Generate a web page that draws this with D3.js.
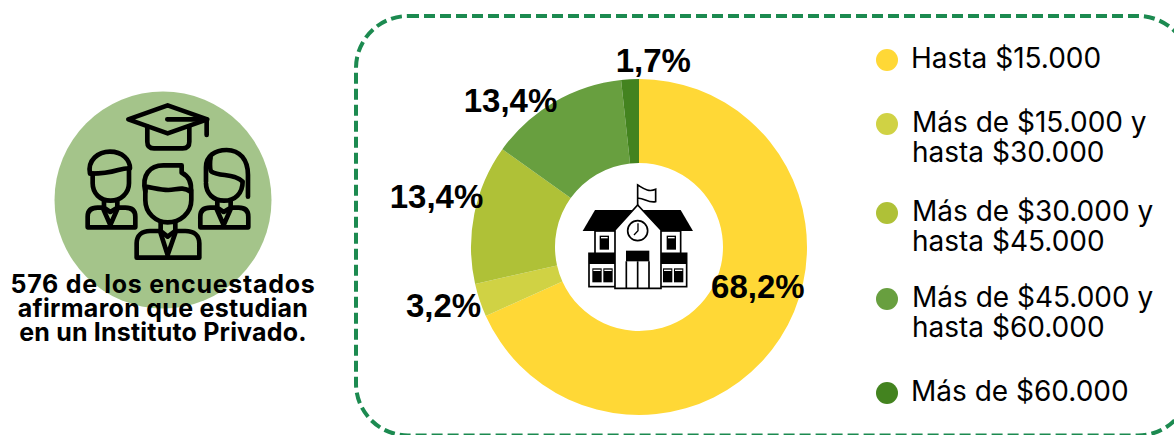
<!DOCTYPE html>
<html>
<head>
<meta charset="utf-8">
<script src="https://cdn.jsdelivr.net/npm/d3@7"></script>
<style>
  html, body { margin: 0; padding: 0; background: #fff; }
  svg { display: block; font-family: Inter, sans-serif; }
</style>
</head>
<body>
<div id="chart"></div>
<script>
const categories = [
  ["Hasta $15.000"],
  ["Más de $15.000 y", "hasta $30.000"],
  ["Más de $30.000 y", "hasta $45.000"],
  ["Más de $45.000 y", "hasta $60.000"],
  ["Más de $60.000"]
];
const values = [68.2, 3.2, 13.4, 13.4, 1.7];
const valueLabels = ["68,2%", "3,2%", "13,4%", "13,4%", "1,7%"];
const colors = ["#ffd836", "#d0d244", "#afc137", "#689f3f", "#43831f"];
const introLines = ["576 de los encuestados", "afirmaron que estudian", "en un Instituto Privado."];

const width = 1174, height = 435;
const svg = d3.select("#chart").append("svg")
  .attr("width", width)
  .attr("height", height);

// dashed frame, runs off the right edge and bottom like the original
svg.append("rect")
  .attr("x", 356).attr("y", 16)
  .attr("width", 834).attr("height", 419.5)
  .attr("rx", 52).attr("ry", 52)
  .attr("fill", "none")
  .attr("stroke", "#1c8a50")
  .attr("stroke-width", 4)
  .attr("stroke-dasharray", "11 5");

// left badge
svg.append("circle")
  .attr("cx", 163).attr("cy", 200).attr("r", 108.5)
  .attr("fill", "#a4c48a");

// students icon, drawn on a 3x grid
const students = svg.append("g")
  .attr("transform", "translate(0,80) scale(0.3333)")
  .attr("fill", "none")
  .attr("stroke", "#000")
  .attr("stroke-width", 14)
  .attr("stroke-linejoin", "round")
  .attr("stroke-linecap", "round");

[
  // cap
  "M385,118 L503,76 L622,118 L503,160 Z",
  "M502,118 H620 V165",
  "M442,140 V185 Q442,205 462,205 H548 Q568,205 568,185 V140",
  // middle student
  "M436,335 C424,285 450,256 490,256 H545 V278 C568,290 576,310 572,335 C545,318 530,330 505,330 C480,330 455,322 436,320 Z",
  "M436,325 V360 C436,400 468,427 503,427 C540,427 574,400 574,360 V330",
  "M410,533 V490 C410,466 426,453 450,453 H480 L503,525 L528,453 H556 C582,453 598,466 598,490 V533 Z",
  "M482,428 V453 M526,428 V453 M482,453 L503,470 L526,453",
  // left student
  "M270,281 C262,240 295,215 330,215 C368,215 390,240 390,265 C360,262 345,282 270,281 Z",
  "M278,281 V310 C278,340 300,362 332,362 C362,362 387,340 387,310 V265",
  "M263,442 V410 C263,392 274,383 293,383 H308 L331,435 L354,383 H376 C396,383 406,392 406,410 V442 Z",
  "M312,362 V383 M352,362 V383 M312,383 L331,396 L352,383",
  // right student
  "M618,305 V262 C618,228 645,210 680,210 C720,210 744,240 744,285 V350",
  "M618,310 C618,340 640,362 672,362 C705,362 728,340 728,305 C705,280 660,290 635,275 C628,270 630,240 632,232",
  "M601,442 V410 C601,392 612,383 631,383 H648 L671,435 L694,383 H716 C736,383 745,392 745,410 V442 Z",
  "M652,362 V383 M692,362 V383 M652,383 L671,396 L692,383"
].forEach(d => students.append("path").attr("d", d));

const introSpacing = [0.7, 0.3, 0.2];
svg.append("g")
  .attr("text-anchor", "middle")
  .attr("font-weight", 700)
  .attr("font-size", 25)
  .selectAll("text")
  .data(introLines)
  .join("text")
  .attr("x", 163)
  .attr("y", (d, i) => 293 + i * 24)
  .attr("letter-spacing", (d, i) => introSpacing[i])
  .text(d => d);

// donut
const cx = 639, cy = 247;
const pie = d3.pie().sort(null).value(d => d);
const arc = d3.arc().innerRadius(84).outerRadius(168);
const arcs = pie(values);

const donut = svg.append("g").attr("transform", `translate(${cx},${cy})`);
donut.selectAll("path")
  .data(arcs)
  .join("path")
  .attr("d", arc)
  .attr("fill", (d, i) => colors[i]);

// labels sit by hand around the ring, so nudge them from each slice's centroid
const labelNudge = [[13, -29], [-76, 19], [-79, -26], [-65, -38], [21, -61]];
donut.selectAll("text")
  .data(arcs)
  .join("text")
  .attr("text-anchor", "middle")
  .attr("font-family", "'Liberation Sans', sans-serif")
  .attr("font-weight", 700)
  .attr("font-size", 33)
  .attr("transform", (d, i) => {
    const c = arc.centroid(d);
    return `translate(${c[0] + labelNudge[i][0]},${c[1] + labelNudge[i][1]})`;
  })
  .attr("dy", "0.35em")
  .text((d, i) => valueLabels[i]);

// school icon, 3x grid as well
const school = svg.append("g")
  .attr("transform", "translate(560,170) scale(0.3333)")
  .attr("stroke", "#000");

// flag
school.append("path")
  .attr("d", "M233,105 V45 C250,55 265,68 287,58 V95 C265,100 250,82 233,85")
  .attr("fill", "#fff").attr("stroke-width", 5);

function wing(g) {
  g.append("path").attr("d", "M68,183 L105,120 H240 V183 Z").attr("fill", "#000").attr("stroke", "none");
  g.append("rect").attr("x", 105).attr("y", 183).attr("width", 70).attr("height", 70).attr("fill", "#fff").attr("stroke-width", 5);
  g.append("rect").attr("x", 119).attr("y", 197).attr("width", 28).attr("height", 42).attr("fill", "#000").attr("stroke", "none");
  g.append("rect").attr("x", 123).attr("y", 201).attr("width", 20).attr("height", 4).attr("fill", "#fff").attr("stroke", "none");
  g.append("rect").attr("x", 87).attr("y", 250).attr("width", 80).attr("height", 100).attr("fill", "#fff").attr("stroke-width", 5);
  g.append("rect").attr("x", 87).attr("y", 250).attr("width", 80).attr("height", 32).attr("fill", "#000").attr("stroke", "none");
  [97, 130].forEach(x => {
    g.append("rect").attr("x", x).attr("y", 295).attr("width", 28).attr("height", 42).attr("fill", "#000").attr("stroke", "none");
    g.append("rect").attr("x", x + 3).attr("y", 299).attr("width", 22).attr("height", 4).attr("fill", "#fff").attr("stroke", "none");
  });
}
wing(school.append("g"));
wing(school.append("g").attr("transform", "translate(467,0) scale(-1,1)"));

school.append("path")
  .attr("d", "M165,180 L233,105 L303,180 V355 H165 Z")
  .attr("fill", "#fff").attr("stroke-width", 5);
school.append("circle")
  .attr("cx", 233).attr("cy", 182).attr("r", 30)
  .attr("fill", "#fff").attr("stroke-width", 5);
school.append("path")
  .attr("d", "M234,160 V182 L222,195")
  .attr("fill", "none").attr("stroke-width", 4);
school.append("rect")
  .attr("x", 198).attr("y", 242).attr("width", 70).attr("height", 32)
  .attr("fill", "#000").attr("stroke", "none");
school.append("path")
  .attr("d", "M199,274 V355 M233,274 V355 M267,274 V355")
  .attr("fill", "none").attr("stroke-width", 5);

// legend
const legendY = [60, 124, 213, 299, 393];
const legend = svg.append("g");
categories.forEach((lines, i) => {
  legend.append("circle")
    .attr("cx", 887).attr("cy", legendY[i]).attr("r", 11)
    .attr("fill", colors[i]);
  legend.append("g")
    .selectAll("text")
    .data(lines)
    .join("text")
    .attr("x", lines.length > 1 ? 912 : 911)
    .attr("y", (d, j) => legendY[i] + 7.5 + j * 30.5)
    .attr("font-size", 28)
    .attr("fill", "#000")
    .text(d => d);
});
</script>
</body>
</html>
